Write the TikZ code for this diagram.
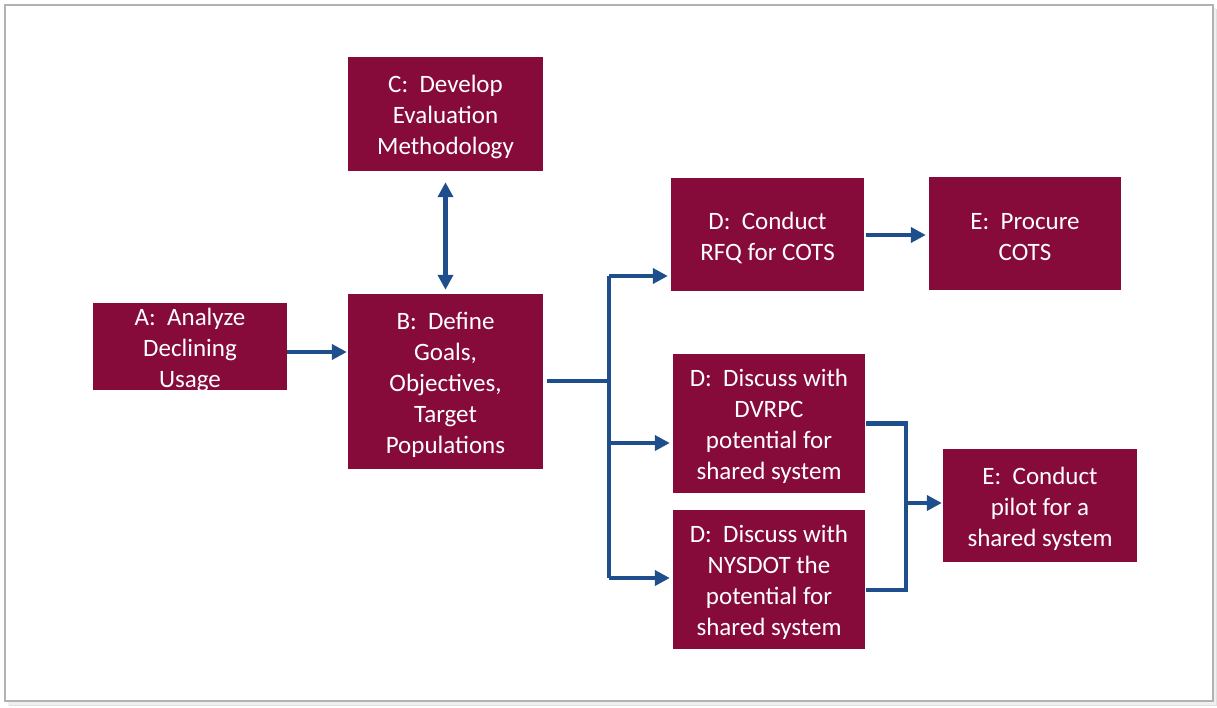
\documentclass[tikz,border=0pt]{standalone}
\usepackage{fontspec}
\setmainfont{Carlito}
\usetikzlibrary{arrows.meta}
\definecolor{boxred}{RGB}{134,11,58}
\definecolor{arrblue}{RGB}{31,78,140}
\newcommand{\topstrut}{\rule{0pt}{24pt}}
\tikzset{
  stepbox/.style={fill=boxred, draw=none, text=white, align=center, inner sep=2pt,
    font=\fontsize{25}{31}\selectfont},
  link/.style={draw=arrblue, line width=4.5pt},
  arr/.style={link, -{Triangle[length=15pt,width=15pt]}},
  darr/.style={link, {Triangle[length=15pt,width=15pt]}-{Triangle[length=15pt,width=15pt]}},
}
\begin{document}
\begin{tikzpicture}[x=1pt,y=-1pt]
\useasboundingbox (0,0) rectangle (1217,708);
% frame with shadow
\fill[black!12] (9,9) rectangle (1217,706);
\fill[black!6] (8,8) rectangle (1216,705);
\filldraw[fill=white, draw=black!30, line width=1.2pt] (5,5) rectangle (1213,701);

\node[stepbox, minimum width=194pt, minimum height=87pt, inner ysep=0pt, text depth=0pt] (A) at (190,346.5) {\rule{0pt}{19pt}A:\ \ Analyze\\Declining\\Usage};
\node[stepbox, minimum width=195pt, minimum height=175pt] (B) at (445.5,381.5) {\topstrut B:\ \ Define\\Goals,\\Objectives,\\Target\\Populations};
\node[stepbox, minimum width=195pt, minimum height=114pt] (C) at (445.5,114) {\topstrut C:\ \ Develop\\Evaluation\\Methodology};
\node[stepbox, minimum width=193pt, minimum height=113pt] (D1) at (767.5,234.5) {\topstrut D:\ \ Conduct\\RFQ for COTS};
\node[stepbox, minimum width=192pt, minimum height=113pt] (E1) at (1025,233.5) {\topstrut E:\ \ Procure\\COTS};
\node[stepbox, minimum width=192pt, minimum height=139pt] (D2) at (769,423.5) {\topstrut D:\ \ Discuss with\\DVRPC\\potential for\\shared system};
\node[stepbox, minimum width=192pt, minimum height=139pt] (D3) at (769,579.5) {\topstrut D:\ \ Discuss with\\NYSDOT the\\potential for\\shared system};
\node[stepbox, minimum width=194pt, minimum height=113pt] (E2) at (1040,505.5) {\topstrut E:\ \ Conduct\\pilot for a\\shared system};

\coordinate (j1) at (609,381);
\coordinate (j2) at (906,503);

% A -> B
\draw[arr] ([yshift=-5.5pt]A.east) -- ([yshift=-5.5pt,xshift=-1pt]A.east -| B.west);
% C <-> B
\draw[darr] ([yshift=-11pt]C.south) -- ([yshift=4pt]B.north);
% B -> D fan
\draw[link, line cap=butt] ([xshift=4pt]B.east |- j1) -- (j1);
\draw[link, line cap=square] (j1 |- 0,276) -- (j1 |- 0,578);
\draw[arr] (j1 |- 0,276) -- ([xshift=-3pt]D1.west |- 0,276);
\draw[arr] (j1 |- 0,443) -- ([xshift=-3pt]D2.west |- 0,443);
\draw[arr] (j1 |- 0,578) -- ([xshift=-3pt]D3.west |- 0,578);
% D1 -> E1
\draw[arr] ([xshift=2pt]D1.east |- 0,235) -- ([xshift=-3pt]E1.west |- 0,235);
% D2, D3 -> E2
\draw[link, line cap=square] ([xshift=1pt]D2.east) -| (j2) |- ([xshift=1pt]D3.east |- 0,590);
\draw[arr] (j2) -- ([xshift=-1pt]E2.west |- j2);
\end{tikzpicture}
\end{document}
